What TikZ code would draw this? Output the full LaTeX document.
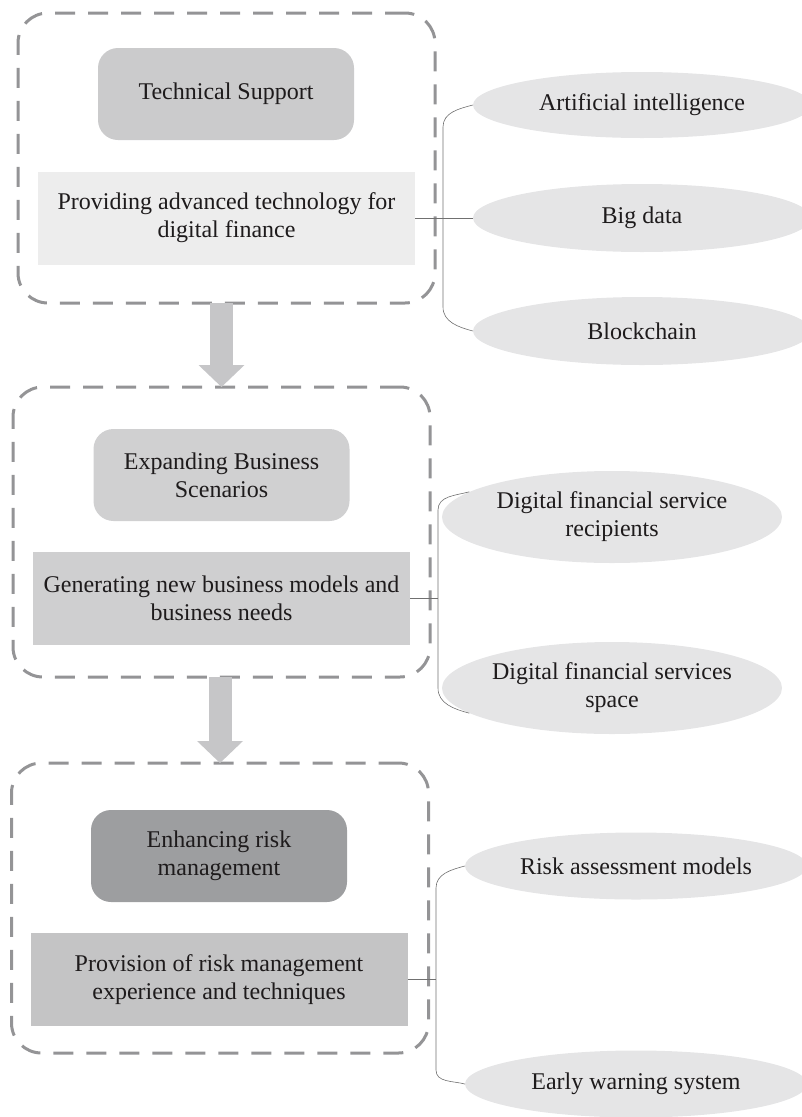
\documentclass[tikz,border=0pt]{standalone}
\usepackage{fontspec}
\setmainfont{Liberation Serif}
\usetikzlibrary{shapes.geometric,arrows.meta}

\definecolor{zoneline}{RGB}{148,148,150}
\definecolor{headA}{RGB}{203,203,204}
\definecolor{headB}{RGB}{208,208,209}
\definecolor{headC}{RGB}{157,158,160}
\definecolor{subA}{RGB}{237,237,237}
\definecolor{subB}{RGB}{207,207,208}
\definecolor{subC}{RGB}{196,196,197}
\definecolor{leafgray}{RGB}{229,229,230}
\definecolor{flowgray}{RGB}{198,198,200}
\definecolor{inkgray}{RGB}{30,27,28}
\definecolor{bracegray}{RGB}{112,112,112}

\tikzset{
    every node/.style={font=\fontsize{24}{28}\selectfont, text=inkgray, align=center},
    zone/.style={draw=zoneline, line width=3pt, dash pattern=on 20pt off 13pt,
        rounded corners=30pt, outer sep=0pt, minimum width=417pt, minimum height=290pt},
    headbox/.style={rounded corners=20pt, minimum width=256pt, minimum height=92pt},
    subbox/.style={minimum width=377pt, minimum height=93pt},
    leaf/.style={ellipse, fill=leafgray, inner sep=0pt, minimum width=340pt},
    brace/.style={draw=bracegray, line width=0.6pt},
    flow/.style={draw=flowgray, line width=23pt,
        -{Triangle[length=22pt,width=46pt,line width=0pt]}},
}

\begin{document}
\begin{tikzpicture}[x=1pt,y=-1pt]
    \useasboundingbox (0,0) rectangle (801,1117);

    % dashed frames
    \node[zone] (z1) at (226.5,158) {};
    \node[zone] (z2) at (221.5,532) {};
    \node[zone] (z3) at (220,908) {};

    \draw[flow] (z1.south -| z2.north) -- (z2.north);
    \draw[flow] (z2.south -| z3.north) -- (z3.north);

    \node[headbox, fill=headA] (ts) at (226,94) {Technical Support};
    \node[subbox, fill=subA] (pat) at (226.5,218) {Providing advanced technology for\\digital finance};

    \node[headbox, fill=headB] (ebs) at (221.5,475) {Expanding Business\\Scenarios};
    \node[subbox, fill=subB] (gnb) at (221.5,598.5) {Generating new business models and\\business needs};

    \node[headbox, fill=headC] (erm) at (219,856) {Enhancing risk\\management};
    \node[subbox, fill=subC] (prm) at (219,979.5) {Provision of risk management\\experience and techniques};

    % ellipses on the right
    \node[leaf, minimum width=338pt, minimum height=66pt] (ai) at (642,105) {Artificial intelligence};
    \node[leaf, minimum width=338pt, minimum height=68pt] (bd) at (642,218) {Big data};
    \node[leaf, minimum width=338pt, minimum height=68pt] (bc) at (642,331) {Blockchain};

    \node[leaf, minimum height=92pt] (dfr) at (612,517) {Digital financial service\\recipients};
    \node[leaf, minimum height=92pt] (dfs) at (612,688) {Digital financial services\\space};

    \node[leaf, minimum width=342pt, minimum height=67pt] (ram) at (636,866) {Risk assessment models};
    \node[leaf, minimum width=342pt, minimum height=67pt] (ews) at (636,1084) {Early warning system};

    \coordinate (t1) at (443,127);
    \coordinate (b1) at (443,307);
    \coordinate (t2) at (438,510);
    \coordinate (b2) at (438,688);
    \coordinate (j2) at (438,598.5);
    \coordinate (t3) at (436,888);
    \coordinate (b3) at (436,1070);
    \coordinate (j3) at (436,979.5);

    \draw[brace] (ai.west) to[out=195,in=90] (t1) -- (b1) to[out=-90,in=165] (bc.west);
    \draw[brace] (pat.east) -- (bd.west);

    \draw[brace] (dfr.170) to[out=195,in=90] (t2) -- (b2) to[out=-90,in=165] (dfs.190);
    \draw[brace] (gnb.east) -- (j2);

    \draw[brace] (ram.west) to[out=195,in=90] (t3) -- (b3) to[out=-90,in=165] (ews.west);
    \draw[brace] (prm.east) -- (j3);
\end{tikzpicture}
\end{document}
